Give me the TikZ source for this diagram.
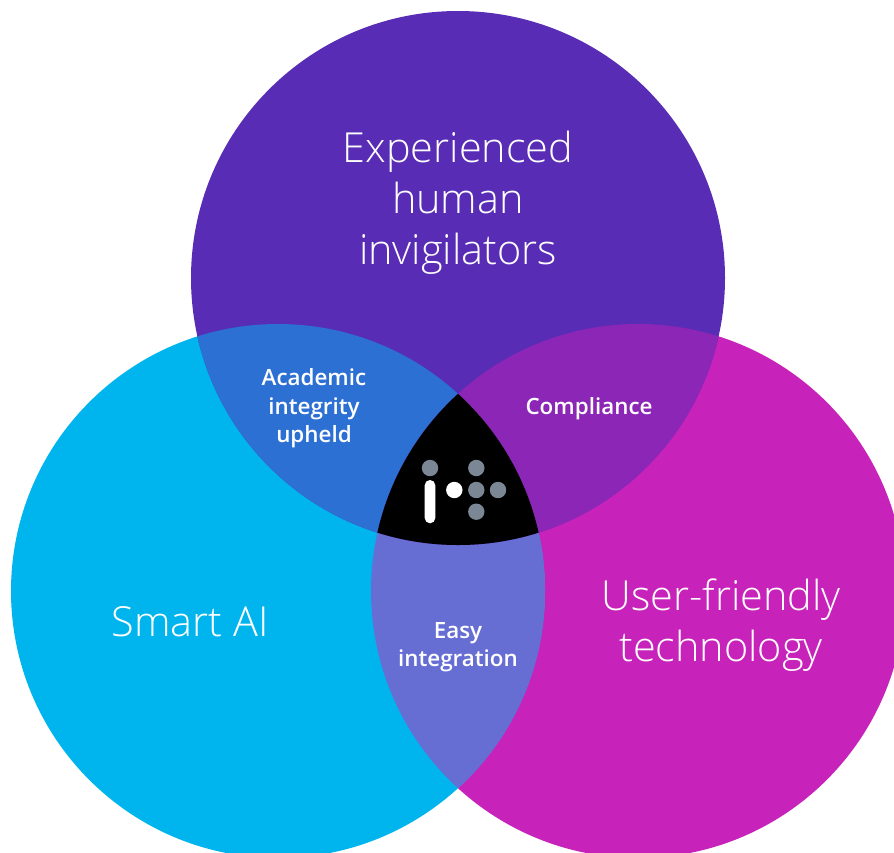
\documentclass[tikz,border=0pt]{standalone}
\usepackage{fontspec}
\setmainfont{Open Sans}[UprightFont=* Light,BoldFont=* Bold]
\newfontfamily\labelfont{Open Sans}[UprightFont=* Semibold]
\definecolor{ctop}{HTML}{582CB4}
\definecolor{cleft}{HTML}{00B5EE}
\definecolor{cright}{HTML}{C722BA}
\definecolor{ctl}{HTML}{2C70D4}
\definecolor{ctr}{HTML}{8C26B6}
\definecolor{clr}{HTML}{666ED4}
\definecolor{cdot}{HTML}{7B8794}
\tikzset{
  bigtext/.style={text=white,align=center,font=\fontsize{41.4}{51}\selectfont,inner sep=0pt},
  smalltext/.style={text=white,align=center,font=\labelfont\fontsize{22.4}{28.5}\selectfont,inner sep=0pt},
  greydot/.style={fill=cdot},
  whitedot/.style={fill=white}
}
\def\ctop{(458,278) circle (267)}
\def\cleft{(278,591) circle (267)}
\def\cright{(638,591) circle (267)}
\begin{document}
\begin{tikzpicture}[x=1pt,y=-1pt]
\useasboundingbox (0,0) rectangle (894,852);
\clip (0,0) rectangle (894,852);
\fill[cright] \cright;
\fill[cleft] \cleft;
\fill[ctop] \ctop;
\begin{scope}\clip \cleft; \fill[clr] \cright; \end{scope}
\begin{scope}\clip \ctop; \fill[ctl] \cleft; \end{scope}
\begin{scope}\clip \ctop; \fill[ctr] \cright; \end{scope}
\begin{scope}\clip \ctop; \clip \cleft; \fill[black] \cright; \end{scope}
\fill[greydot] (430,468) circle (8.2);
\fill[greydot] (476.3,468) circle (8.2);
\fill[greydot] (476.3,490) circle (8.2);
\fill[greydot] (498,490) circle (8.2);
\fill[greydot] (476.3,511.7) circle (8.2);
\fill[whitedot] (454.3,490) circle (8.2);
\fill[whitedot,rounded corners=5.3] (424.7,480) rectangle (435.3,523.3);
\node[bigtext] (exp) at (458,203) {Experienced\\human\\invigilators};
\node[bigtext] (ai) at (190,622) {Smart AI};
\node[bigtext] (ufr) at (721,625.5) {User-friendly\\technology};
\node[smalltext] (aca) at (314,408.5) {Academic\\integrity\\upheld};
\node[smalltext] (com) at (589,408.5) {Compliance};
\node[smalltext] (eas) at (458,647) {Easy\\integration};
\end{tikzpicture}
\end{document}
